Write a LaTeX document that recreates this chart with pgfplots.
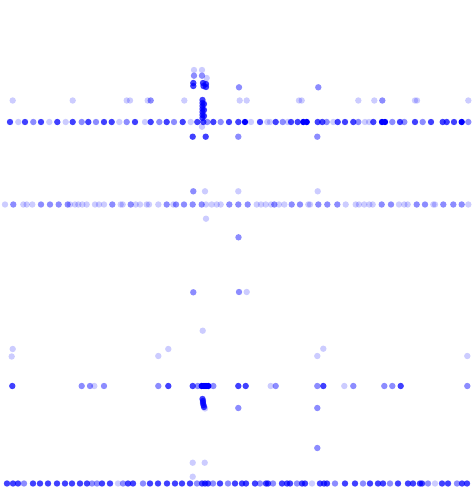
\documentclass[border=0pt]{standalone}
\usepackage{pgfplots}
\pgfplotsset{compat=1.18}
\begin{document}
\begin{tikzpicture}
\useasboundingbox (0,0) rectangle (475pt,490pt);
\begin{axis}[
  at={(5pt,5pt)}, anchor=south west,
  scale only axis, width=465pt, height=480pt,
  xmin=5, xmax=470, ymin=5, ymax=485, y dir=reverse,
  hide axis, clip=true,
]
% light
\addplot[only marks, mark=*, mark size=3.2pt, color=blue, mark options={draw opacity=0, fill=blue, fill opacity=0.2}] table {
x y
18.3 122
49.3 122
65.7 122
119.3 122
145 122
190.7 122
251 122
267.3 122
270 122
287.7 122
333.3 122
365 122
369 122
12.7 100.5
72.7 100.5
126.7 100.5
130 100.5
147.7 100.5
184.3 100.5
239.7 100.5
246.7 100.5
299 100.5
301.7 100.5
358.3 100.5
374.3 100.5
415 100.5
417 100.5
468.3 100.5
194 70
202 70
206.7 78
202 126.7
194 2
5 204.5
23.3 204.5
26.7 204.5
32.3 204.5
70 204.5
75 204.5
78.3 204.5
82.3 204.5
86.7 204.5
95 204.5
99 204.5
104 204.5
120.7 204.5
122.7 204.5
135.7 204.5
140 204.5
146.7 204.5
149 204.5
158.3 204.5
173.3 204.5
206 204.5
211.7 204.5
216.7 204.5
220.7 204.5
256.7 204.5
261 204.5
265.7 204.5
271 204.5
279 204.5
284.3 204.5
308.3 204.5
310 204.5
345.7 204.5
355.7 204.5
359 204.5
364.3 204.5
369.3 204.5
372.7 204.5
399 204.5
404.3 204.5
407.7 204.5
433.3 204.5
435 204.5
468.3 204.5
205 191.3
238.3 191.3
317.7 191.3
206 218.7
246.7 292
202.7 330.7
12.7 349
168.3 349
323.3 348.7
11.7 356.5
158.3 356
317.3 356
467.3 356
94.3 386
270.7 386
344.3 386
205 408.5
192.7 462.7
204.7 462.7
192.7 476.7
118 483.5
312 483.5
435 483.5
};
% medium
\addplot[only marks, mark=*, mark size=3.2pt, color=blue, mark options={draw opacity=0, fill=blue, fill opacity=0.45}] table {
x y
33.3 122
81.7 122
96 122
126.7 122
159.3 122
174 122
207.3 122
220.7 122
282.7 122
326.7 122
358.3 122
392.3 122
404.3 122
422.7 122
468.3 122
150.7 100.5
382.3 100.5
239 87.3
318.3 87.3
194 75.7
202 75.7
238.3 136.7
317.3 136.7
13.3 204.5
41 204.5
50 204.5
58.7 204.5
67.7 204.5
112.3 204.5
130.7 204.5
166.7 204.5
176 204.5
184 204.5
192.7 204.5
201.7 204.5
229.3 204.5
238.3 204.5
247.7 204.5
274.3 204.5
291.7 204.5
300 204.5
318.3 204.5
327.3 204.5
337.3 204.5
381.7 204.5
391 204.5
416.7 204.5
425 204.5
443.3 204.5
453.3 204.5
461.7 204.5
193.3 191.3
238.5 237.3
193.3 292.3
239 292
81.7 386
90 386
104 386
158.3 386
197.7 386
213.3 386
275.7 386
317.3 386
353.3 386
384.3 386
392.3 386
467.3 386
238.3 408
317.3 408
317.3 448
24 483.5
92 483.5
97 483.5
123 483.5
143 483.5
197 483.5
213 483.5
228 483.5
260 483.5
273 483.5
297 483.5
335 483.5
363 483.5
390 483.5
428 483.5
457 483.5
};
% dark
\addplot[only marks, mark=*, mark size=3.2pt, color=blue, mark options={draw opacity=0, fill=blue, fill opacity=0.75}] table {
x y
10 122
25 122
41 122
57.3 122
72.7 122
88.3 122
104 122
111.7 122
135 122
150.7 122
166.7 122
182.7 122
197.3 122
203.3 122
213.3 122
229 122
238.3 122
260 122
275.7 122
291 122
297.7 122
317.7 122
322.3 122
337.7 122
345 122
353.3 122
373.3 122
400 122
415 122
431 122
442.7 122
446.7 122
454 122
193.3 83
193.3 86
203 83
206 84
203.5 86
206 87
202.5 100
202.5 103
202.5 106
202.5 109
202.5 112
202.5 115
202.5 118
204 104
204 110
204 116
192.7 136.7
205.7 136.7
12.3 386
168.3 386
192.7 386
238.3 386
245.7 386
323.3 386
400.7 386
202.5 399
203 401
203 403
203.5 405
204 407
7 483.5
13 483.5
18 483.5
33 483.5
40 483.5
48 483.5
57 483.5
65 483.5
72 483.5
80 483.5
87 483.5
102 483.5
110 483.5
128 483.5
133 483.5
150 483.5
158 483.5
167 483.5
175 483.5
182 483.5
190 483.5
202 483.5
205 483.5
208 483.5
220 483.5
235 483.5
242 483.5
246 483.5
255 483.5
266 483.5
268 483.5
282 483.5
287 483.5
290 483.5
302 483.5
305 483.5
320 483.5
324 483.5
327 483.5
345 483.5
355 483.5
370 483.5
378 483.5
383 483.5
398 483.5
408 483.5
413 483.5
420 483.5
422 483.5
442 483.5
448 483.5
462 483.5
467 483.5
};
% very dark
\addplot[only marks, mark=*, mark size=3.2pt, color=blue, mark options={draw opacity=0, fill=blue, fill opacity=1}] table {
x y
245 122
303.3 122
306.7 122
382 122
385 122
461.7 122
201.7 386
204 386
206 386
208.3 386
};
\end{axis}
\end{tikzpicture}
\end{document}
